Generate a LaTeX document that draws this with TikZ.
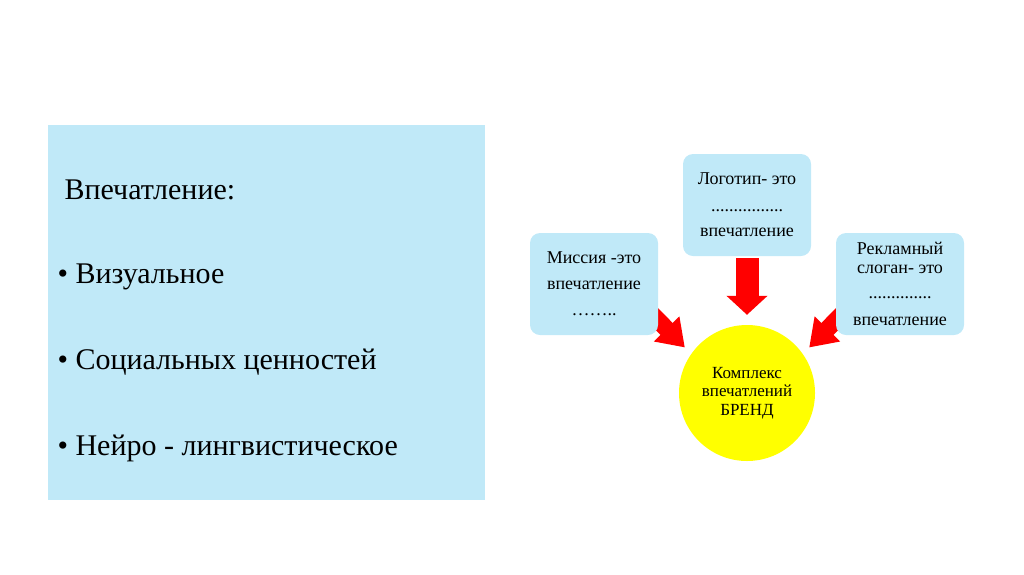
\documentclass[tikz,border=0pt]{standalone}
\usepackage{fontspec}
\setmainfont{Liberation Serif}
\usepackage{tikz}
\usetikzlibrary{
  arrows.meta,   % Block arrow heads
  shapes.geometric
}
\pgfdeclarelayer{background}
\pgfsetlayers{background,main}
\definecolor{panelblue}{RGB}{192,233,248}
\definecolor{brandyellow}{RGB}{255,255,0}

\begin{document}
\begin{tikzpicture}[x=1pt, y=-1pt,
    infobox/.style={fill=panelblue, rounded corners=10pt, minimum width=128pt,
      minimum height=102pt, align=center, font=\fontsize{18}{19}\selectfont},
    bigarrow/.style={draw=red, line width=23pt, -{Triangle[length=19pt, width=40pt]}},
    sidearrow/.style={draw=red, line width=17pt, -{Triangle[length=26pt, width=34pt]}},
    bulletline/.style={anchor=base west, font=\fontsize{30}{34}\selectfont}]
            \useasboundingbox (0,0) rectangle (1024,574);
            % left panel
            \fill[panelblue] (48,125) rectangle (485,500);
            \node[bulletline] (title) at (61,199) {Впечатление:};
            \node[bulletline] (visual) at (54,283) {\textbullet\ Визуальное};
            \node[bulletline] (social) at (54,369) {\textbullet\ Социальных ценностей};
            \node[bulletline] (neuro) at (54,455) {\textbullet\ Нейро - лингвистическое};
            % right scheme
            \node[infobox] (logo) at (747,205) {Логотип- это\\[8pt] ................\\[6pt] впечатление};
            \node[infobox] (mission) at (594,284) {Миссия -это\\[7pt] впечатление\\[7pt] ……..};
            \node[infobox] (slogan) at (900,284) {Рекламный\\ слоган- это\\[6pt] ..............\\[8pt] впечатление};
            \node[circle, fill=brandyellow, minimum size=136pt, align=center,
                  font=\fontsize{17}{18.5}\selectfont] (brand) at (747,393)
                  {Комплекс\\ впечатлений\\ БРЕНД};
            \coordinate (mstart) at (648,310);
            \coordinate (sstart) at (846,310);
            \begin{pgfonlayer}{background}
            \draw[bigarrow, shorten <=2pt, shorten >=10pt] (logo.south) -- (brand.north);
            \draw[sidearrow, shorten >=9pt] (mstart) -- (brand.145);
            \draw[sidearrow, shorten >=9pt] (sstart) -- (brand.35);
            \end{pgfonlayer}
        \end{tikzpicture}
\end{document}
